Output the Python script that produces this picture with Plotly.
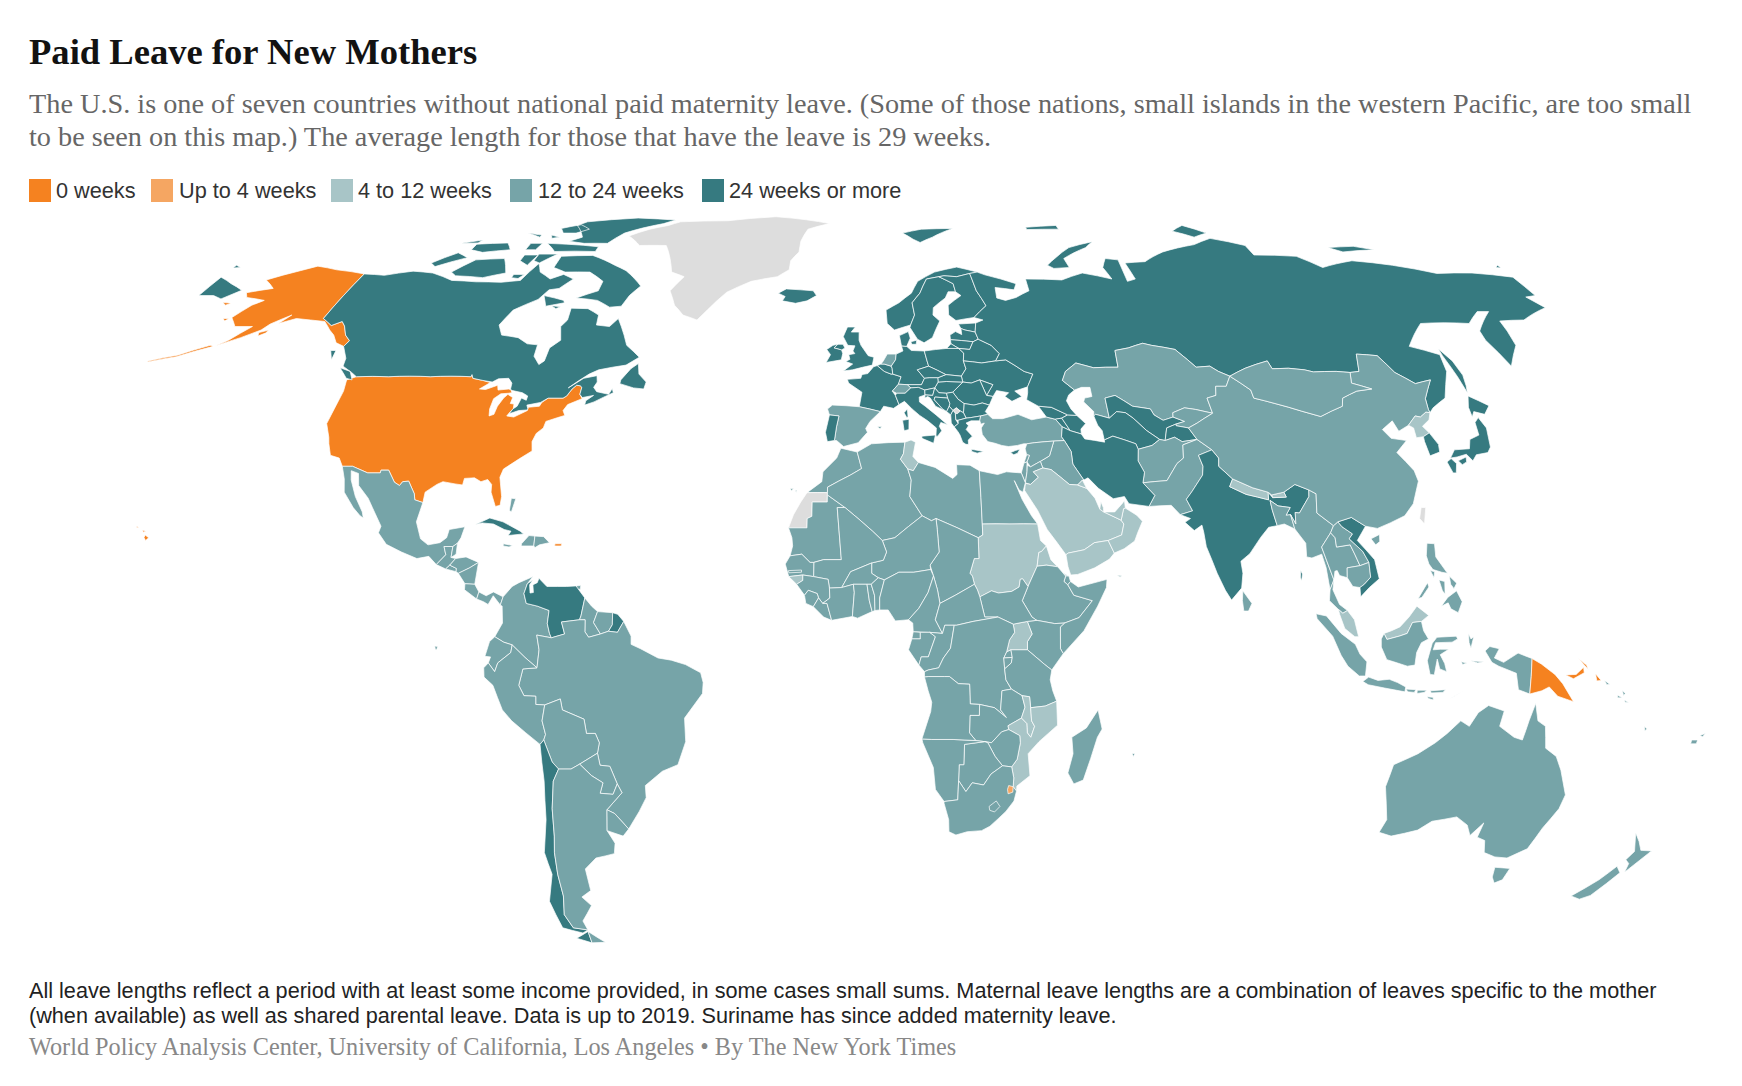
import plotly.graph_objects as go

# leave length classes, legend order
categories = ["0 weeks", "Up to 4 weeks", "4 to 12 weeks", "12 to 24 weeks", "24 weeks or more"]
category_colors = ["#f58220", "#f5a662", "#a8c5c7", "#76a4a8", "#367a80"]
no_data_color = "#dddddd"

title = "Paid Leave for New Mothers"
subtitle = ["The U.S. is one of seven countries without national paid maternity leave. (Some of those nations, small islands in the western Pacific, are too small",
            "to be seen on this map.) The average length for those that have the leave is 29 weeks."]
note = ["All leave lengths reflect a period with at least some income provided, in some cases small sums. Maternal leave lengths are a combination of leaves specific to the mother",
        "(when available) as well as shared parental leave. Data is up to 2019. Suriname has since added maternity leave."]
source = "World Policy Analysis Center, University of California, Los Angeles • By The New York Times"

weeks_0 = ["USA", "Papua New Guinea"]
weeks_up_to_4 = ["Eswatini"]
weeks_4_12 = ["Saudi Arabia", "Yemen", "Oman", "UAE", "Qatar", "Kuwait", "Sudan", "Eritrea", "Tunisia", "Uganda",
              "Malawi", "Mozambique", "Guinea-Bissau", "Nepal", "Bhutan", "North Korea", "Malaysia"]
weeks_24_plus = ["Canada", "Russia", "UK", "Ireland", "Iceland", "Norway", "Sweden", "Finland", "Denmark", "Germany",
                 "France", "Belgium", "Poland", "Czechia", "Slovakia", "Austria", "Hungary", "Italy", "Slovenia",
                 "Croatia", "Bosnia", "Serbia", "Montenegro", "Albania", "North Macedonia", "Greece", "Bulgaria",
                 "Romania", "Moldova", "Ukraine", "Belarus", "Estonia", "Latvia", "Lithuania", "Portugal", "Cyprus",
                 "Georgia", "Armenia", "Azerbaijan", "Iran", "Uzbekistan", "Turkmenistan", "Tajikistan", "India",
                 "Vietnam", "Japan", "South Korea", "Chile", "Venezuela", "French Guiana", "Cuba", "Mauritius"]
no_data = ["Greenland", "Western Sahara", "Kosovo", "Taiwan"]

# country outlines as lon,lat rings (everything not listed above is 12 to 24 weeks)
outlines = {
    "USA": ["-124.7,48.4 -122.8,49 -115,49 -105,49 -95.2,49 -95.2,49.4 -94.6,48.7 -92,48.3 -90,47.9 -92,46.7 -90.5,46.6 -88,47.4 -87.5,46.5 -85,46.7 -84.4,46.5 -84,46 -84.8,45.9 -86.5,45.8 -87.8,44.9 -87.9,43 -87.5,41.7 -86.5,42 -86.3,43.5 -85.5,45 -84.8,45.7 -83.4,45.1 -83.5,44 -82.6,43.9 -82.4,43 -83.1,42.2 -83.4,41.7 -81.7,41.5 -79,42.7 -79,43.3 -76.5,43.5 -76.2,44.2 -75,45 -71.5,45 -70.8,45.4 -70,46.7 -69.2,47.4 -68.3,47.3 -67.8,47 -67.8,45.7 -67,44.9 -70,43.8 -70.7,42.7 -70,41.8 -71.5,41.4 -74,40.7 -74.2,39.5 -75.5,38.5 -76,37 -75.5,35.3 -77.9,33.9 -81,32 -81.4,30.5 -80.2,27 -80.2,25.4 -81.2,25.2 -82.7,27.8 -82.9,29.2 -84,30.1 -85.4,29.7 -87,30.4 -89.2,30.3 -89.3,29.1 -91,29.3 -93.8,29.7 -95,29.2 -97.2,27.8 -97.2,25.9 -99.1,26.4 -99.5,27.5 -101.4,29.8 -102.7,29.7 -103.2,29 -104.5,29.6 -106.5,31.8 -108.2,31.8 -108.2,31.3 -111,31.3 -114.8,32.5 -117.1,32.5 -118.4,34 -120.6,34.5 -121.9,36.6 -122.5,37.8 -124.3,40.3 -124.1,43 -124,46.3",
            "-141,69.6 -141,60.3 -137.5,58.9 -135.5,59.7 -134,58.8 -132,57 -130,55.9 -130.5,54.8 -133,55.5 -135,57 -137,58 -140,59.7 -144,60 -148,60.3 -151.5,59.3 -150,61 -153.5,59.2 -154.5,58 -158,56.5 -162.5,54.9 -160.5,56 -157.5,58.7 -162,58.7 -165,60.5 -163,63 -161,64 -166.5,64.6 -168,65.6 -162,66.5 -166.5,68.3 -160,70.3 -156.5,71.3 -150,70.5",
            "-163,54.8 -170,52.8 -176,51.8 -176,52 -170,53.1 -164,55",
            "-154.5,57.5 -152.5,58 -152.7,57.4 -154,56.8",
            "-171.5,63.6 -169,63.4 -170,63",
            "-167,60.3 -165.5,60.3 -166,59.8",
            "-155.9,20 -155,19.5 -155.5,19 -156,19.5",
            "-156.7,20.9 -156,20.7 -156.5,20.5",
            "-158.2,21.6 -157.7,21.4 -158.1,21.3",
            "-67.2,18.4 -65.7,18.4 -65.8,18 -67.2,18"],
    "Canada": ["-141,69.6 -135,69.3 -128,70.2 -122,69.8 -115,68.2 -108,67.9 -101,67.8 -96,68.2 -94,71.9 -92,70 -88,68.5 -85,69.5 -81.5,68.5 -84,66.5 -86.5,66.2 -88,64.2 -93,62 -94.5,59 -92.5,57 -88,56.5 -85,55.3 -82.3,55.1 -82,52.9 -80,51.3 -79,52 -79,54.5 -77,56 -78.5,58.7 -77.5,60 -78,62.4 -73.5,62.3 -70,61 -69.5,59 -66,58.7 -64.5,60.3 -61.5,57 -60,55 -56,52.7 -58.7,51.2 -65,50.3 -67,49.5 -71,46.9 -68,48.7 -65,49.2 -64.5,48 -65,47 -64,46.2 -61,45.7 -60.5,46.8 -60,46 -64,44.3 -66,43.7 -66,44.5 -64.5,45.5 -67,45.1 -67.8,45.7 -67.8,47 -68.3,47.3 -69.2,47.4 -70,46.7 -70.8,45.4 -71.5,45 -75,45 -76.5,44.2 -79.5,43.7 -79,43 -79.1,42.8 -81,42.7 -83,42.1 -82.5,43 -81.7,43.5 -81.3,45 -80,44.6 -80,45.4 -81.5,46 -84,46.4 -84.6,46.6 -84.8,47.8 -86,48.7 -88.4,48.6 -89.6,48 -92,48.3 -94.6,48.7 -95.2,49.4 -95.2,49 -105,49 -115,49 -122.8,49 -124.5,49.8 -127.5,51 -128,52.5 -130.5,54.8 -130,55.9 -132,57 -134,58.8 -135.5,59.7 -137.5,58.9 -141,60.3",
               "-80,73.7 -72,71.5 -68,70.3 -62,67 -64,65 -65,62.8 -68,62.6 -72,64 -78,64.5 -73,66 -73,68 -78,70 -85,70 -89,71 -89,73.5",
               "-117,70 -113,72.7 -105,73 -101.5,69.8 -107,68.8 -115,69.2",
               "-125,72 -123,71.2 -116,73.2 -120,74.3",
               "-90,77 -85,76.5 -78,76.5 -75,79 -65,81.5 -62,82.5 -75,83.1 -90,82 -92,81 -87,78",
               "-96,76.5 -90,76.3 -80,75.7 -80,74.6 -92,74.6",
               "-117,76.3 -108,76.6 -105.5,75 -113,74.4 -117,75",
               "-96,80.2 -91,81.2 -87,80 -90,79 -94,79",
               "-100,73.8 -96,73.8 -97,71.5 -100,72.5",
               "-96,74 -90.5,74 -94,72 -96,72.5",
               "-101,76.5 -97.5,76.5 -98,75 -101,75",
               "-122,76.5 -116.5,77.3 -117,76.6",
               "-105,79 -100,78.5 -100,78",
               "-97,78.5 -94,78 -96,77.7",
               "-99,69.5 -96,69.5 -97,68.6 -99,68.8",
               "-83.5,62.9 -81,62.7 -82,62.3",
               "-59,47.7 -55.5,46.9 -53,46.7 -52.8,48 -55,49.5 -55.8,51.5 -57.3,50.5 -59,48.4",
               "-128,50.7 -125,50 -123.4,48.4 -125,48.7",
               "-87,65 -81,64 -80.5,63.5 -85,62.8",
               "-133,54 -131.7,54 -131.3,52.2"],
    "Greenland": ["-73,78.3 -68,76 -60,76 -55,70 -51,69 -53.5,66 -51,63 -48,61 -44,60 -42,62 -38,65.7 -32,68 -25,69 -22,70.5 -22,72.5 -20,74.5 -20,77 -18.5,80 -12,81.5 -30,83.5 -45,82.3 -60,82 -63,81 -68,80"],
    "Iceland": ["-24,65.5 -22,66.4 -18,66.2 -14.6,66 -13.6,65 -16,63.9 -19,63.4 -22.6,63.9 -22,64.8"],
    "Mexico": ["-117.1,32.5 -114.8,32.5 -111,31.3 -108.2,31.3 -108.2,31.8 -106.5,31.8 -104.5,29.6 -103.2,29 -102.7,29.7 -101.4,29.8 -99.5,27.5 -99.1,26.4 -97.2,25.9 -97.8,22.4 -96.3,19.3 -94.5,18.2 -92,18.6 -90.7,19.5 -90.4,21 -87.1,21.5 -87.6,19.5 -88.2,18.5 -89.1,17.9 -91,17.9 -90.4,16.4 -92.2,14.6 -94,16.1 -96.5,15.7 -100,16.9 -103.5,18.3 -105.6,20.4 -105.3,21.6 -108,25 -109.4,26.7 -112.2,29 -113,31.2 -114.8,31.7 -114.2,30 -112.3,27 -110,24.2 -109.5,23.1 -110.3,23.5 -112.2,25 -115,27.8 -115.8,30.2"],
    "Guatemala": ["-92.2,14.6 -90.4,16.4 -91,17.9 -89.1,17.9 -89.2,15.9 -88.2,15.7 -89.3,14.5 -90.1,13.8"],
    "Belize": ["-89.1,17.9 -88.2,18.5 -88.2,16.5 -89.2,15.9"],
    "El Salvador": ["-90.1,13.8 -89.3,14.5 -87.8,13.9 -87.8,13.3"],
    "Honduras": ["-89.3,14.5 -88.2,15.7 -86,16 -83.2,15 -85,14 -87.3,13 -87.8,13.3 -87.8,13.9"],
    "Nicaragua": ["-87.3,13 -85,14 -83.2,15 -83.6,11 -85.7,11.1"],
    "Costa Rica": ["-85.7,11.1 -83.6,11 -82.6,9.6 -83,8.3 -85.7,10"],
    "Panama": ["-83,8.3 -82.6,9.6 -81,8.9 -79.5,9.6 -77.4,8.7 -77.9,7.2 -79.5,8.9 -80.5,7.3 -81.5,7.8"],
    "Cuba": ["-84.9,21.9 -82,23.1 -79,22.4 -75,20.7 -74.2,20.2 -77.5,19.9 -77,20.7 -78.5,21 -81,22 -83.5,22.2"],
    "Jamaica": ["-78.3,18.4 -76.3,18.1 -77,17.8 -78.3,18"],
    "Haiti": ["-74.4,18.4 -73,19.9 -71.7,19.8 -71.7,18 -74.4,18"],
    "Dominican Republic": ["-71.7,19.8 -69.8,19.7 -68.4,18.6 -70.5,18.2 -71.4,17.7 -71.7,18"],
    "Bahamas": ["-78,26.7 -77,26.6 -77.5,24.2 -78,24.5"],
    "Trinidad": ["-61.9,10.7 -61,10.8 -61,10.1 -61.9,10.1"],
    "Colombia": ["-77.4,8.7 -75.6,10.6 -74.2,11.3 -71.3,12.4 -72.4,11.1 -73,9.3 -72.4,7.5 -70,7 -67.5,6.2 -67.8,3.8 -67.3,2 -66.9,1.2 -70,1.7 -69.5,-1 -70,-4.3 -72.5,-2.4 -75.2,-0.1 -77,0.4 -78.9,1.4 -77.3,3.9 -77.5,7 -77.9,7.2"],
    "Venezuela": ["-71.3,11.8 -72.4,11.1 -73,9.3 -72.4,7.5 -70,7 -67.5,6.2 -67.8,3.8 -67.3,2 -66.9,1.2 -64.1,1.9 -64.8,4.1 -61,4.5 -60.7,5.2 -60,8.5 -62,10.7 -64,10.6 -66,10.6 -68.2,10.6 -70,12.1 -70.3,11.3 -71.2,10.9 -71,9.5 -71.7,9.4 -71.9,10.9"],
    "Guyana": ["-60,8.5 -60.7,5.2 -61,4.5 -59.8,4.5 -59.8,2.3 -59,1.3 -56.5,1.9 -58,4 -57.2,6 -58.5,7"],
    "Suriname": ["-57.2,6 -58,4 -56.5,1.9 -54.8,2.4 -54,3.6 -54,5.8"],
    "French Guiana": ["-54,5.8 -54,3.6 -54.8,2.4 -52.9,2.2 -51.6,4.2 -52.9,5.5"],
    "Brazil": ["-51.6,4.2 -52.9,2.2 -54.8,2.4 -56.5,1.9 -59,1.3 -59.8,2.3 -59.8,4.5 -61,4.5 -64.8,4.1 -64.1,1.9 -66.9,1.2 -70,1.7 -69.5,-1 -70,-4.3 -73,-4.5 -74,-7.5 -73,-9.4 -70.5,-9.5 -70.6,-11 -68.7,-11.1 -65.3,-10 -65,-12 -60.5,-13.7 -60.2,-16.3 -58.3,-16.3 -57.6,-18 -58.2,-19.9 -57.9,-22.1 -55.8,-22.3 -54.6,-25.5 -53.8,-27.1 -57.6,-30.2 -56,-30.9 -53.4,-33.7 -50.5,-30.5 -48.6,-28 -48.5,-25.8 -44.5,-23.2 -41,-22 -39,-17.8 -39,-13.5 -35,-9 -34.8,-7 -35.3,-5.2 -38.5,-3.7 -41.5,-2.9 -44.3,-2.5 -48,-0.8 -50,0 -50,1.5"],
    "Ecuador": ["-78.9,1.4 -77,0.4 -75.2,-0.1 -75.5,-1.5 -78.3,-3.4 -79,-5 -80.3,-3.4 -79.8,-2.3 -81,-2.2 -80,0.5"],
    "Galapagos": ["-91.6,-0.3 -91,-0.4 -91.2,-1 -91.5,-0.9"],
    "Peru": ["-80.3,-3.4 -79,-5 -78.3,-3.4 -75.5,-1.5 -75.2,-0.1 -72.5,-2.4 -70,-4.3 -73,-4.5 -74,-7.5 -73,-9.4 -70.5,-9.5 -70.6,-11 -68.7,-11.1 -69.5,-14 -69,-16.5 -69.5,-17.5 -70.4,-18.3 -76,-14 -77.8,-12 -79.5,-7.5 -81.3,-6 -81.3,-4.3"],
    "Bolivia": ["-68.7,-11.1 -65.3,-10 -65,-12 -60.5,-13.7 -60.2,-16.3 -58.3,-16.3 -57.6,-18 -58.2,-19.9 -62.3,-21.9 -64.3,-22.8 -67,-22.8 -68.2,-21.5 -69.5,-17.5 -69,-16.5 -69.5,-14"],
    "Paraguay": ["-58.2,-19.9 -57.9,-22.1 -55.8,-22.3 -54.6,-25.5 -55.8,-27.4 -58.6,-27.2 -57.7,-25.3 -60,-24 -62.3,-21.9"],
    "Chile": ["-70.4,-18.3 -69.5,-17.5 -68.2,-21.5 -67,-22.8 -68.5,-25 -69.7,-30 -70.4,-35 -71.2,-38 -71.7,-42 -71.8,-46 -73,-49.5 -71.9,-52 -68.5,-52.4 -70,-53 -74.5,-52 -75.5,-47 -73,-42 -73.5,-38 -71.5,-32 -70.5,-25",
              "-68.6,-52.7 -68.6,-54.9 -72,-54"],
    "Argentina": ["-64.3,-22.8 -62.3,-21.9 -60,-24 -57.7,-25.3 -58.6,-27.2 -55.8,-27.4 -54.6,-25.5 -53.8,-27.1 -57.6,-30.2 -58.3,-34 -57,-36.3 -57.6,-38.2 -62,-39 -65,-41 -65,-45 -67.5,-46.2 -65.8,-47.8 -69,-50.7 -68.5,-52.4 -71.9,-52 -73,-49.5 -71.8,-46 -71.7,-42 -71.2,-38 -70.4,-35 -69.7,-30 -68.5,-25 -67,-22.8",
                  "-68.6,-52.7 -65.2,-54.8 -68.6,-54.9"],
    "Uruguay": ["-57.6,-30.2 -56,-30.9 -53.4,-33.7 -54.9,-35 -58.3,-34"],
    "UK": ["-5.7,50.1 -3.5,50.3 1.3,51.2 1.7,52.7 0.3,53 -1.5,55 -2,56 -2,57.6 -4,57.6 -3,58.6 -5,58.6 -6,56.7 -4.8,55 -3,54.9 -3.5,53.9 -3,53.4 -4.5,53.2 -4.2,52.3 -5.2,51.9 -3.5,51.4",
           "-8.2,54.5 -7.3,55.2 -6,55.2 -5.5,54.5 -6.3,54.1"],
    "Ireland": ["-10,51.7 -6.3,52.2 -6,53.4 -6.3,54.1 -8.2,54.5 -7.3,55.2 -8.5,55 -10,54.2 -9,53.2"],
    "France": ["-1.8,43.4 3.1,42.5 3.9,43.5 6.2,43.1 7.5,43.8 6.7,45.5 6,46.3 7.5,47.6 8.2,49 6.2,49.5 5.8,49.5 4.2,50 2.5,51.1 1.6,50.9 0.2,49.6 -1.2,49.4 -1.5,48.7 -4.7,48.5 -4.4,47.8 -1.2,46.1",
               "8.6,42.3 9.4,43 9.5,41.5 9.2,41.4"],
    "Spain": ["-9.2,43 -8.1,43.7 -1.8,43.4 3.1,42.5 0.7,40.7 -0.3,39.4 0.1,38.7 -2,36.8 -5.3,36.1 -6.9,37.2 -7.4,37.2 -7,39.7 -6.5,41.7 -8.7,41.9",
              "2.4,39.7 3.4,39.8 3,39.3",
              "-16.9,28.4 -16.2,28.5 -16.6,28", "-15.8,28.2 -15.4,28.1 -15.6,27.8"],
    "Portugal": ["-8.7,41.9 -6.5,41.7 -7,39.7 -7.4,37.2 -9,37 -9.5,38.7"],
    "Belgium": ["2.5,51.1 4.2,50 5.8,49.5 6.2,49.5 6.1,50.6 5.9,51 4.2,51.4 3.4,51.4"],
    "Netherlands": ["3.4,51.4 4.2,51.4 5.9,51 7,52.2 7.2,53.3 5,53.3 4,52"],
    "Germany": ["6.2,49.5 8.2,49 7.5,47.6 9.6,47.5 13,47.5 13.8,48.7 12.2,50.3 15,51 14.7,52 14.2,53.9 11,54 9.9,54.8 8.6,54.9 8.9,53.9 7.2,53.3 7,52.2 5.9,51 6.1,50.6"],
    "Denmark": ["8.6,54.9 9.9,54.8 10.9,56.4 10.5,57.7 8.2,56.9", "11,55.7 12.5,56 12.3,55.2 11.2,55.2"],
    "Norway": ["5.2,59.3 7,58 9,58.5 11.2,59 12.4,61 12,63.5 14.3,65.5 16.5,68.5 20,69 21.5,69.2 25,69 28.8,69.7 31,70 25.5,71.1 19,70 14,68 12,65.5 8.5,63.5 5,62",
               "11,79 17,80 27,80.2 20,78 16,76.7 14,77.5"],
    "Sweden": ["11.2,59 11,58.5 12.7,56.2 14.3,55.5 16.5,56.5 18.8,59.8 17.2,61 17.5,62.5 21,64.5 22,65.8 24,65.8 23.7,67.5 20,69 16.5,68.5 14.3,65.5 12,63.5 12.4,61"],
    "Finland": ["24,65.8 25.3,65 21.5,63 21.3,61 23,59.9 27.8,60.5 31.5,62.9 29.7,66 29,69 28.8,69.7 25,69 21.5,69.2 20,69 23.7,67.5"],
    "Estonia": ["23.5,59.2 28,59.4 27.5,57.6 25,58 24,58.3"],
    "Latvia": ["21,57 21,56.1 26.6,55.7 28,56.2 27.5,57.6 25,58 24,58.3 24,57.1 22.5,57.7"],
    "Lithuania": ["21,56.1 21,55.3 22.8,54.4 25.5,54.2 26.6,55.7"],
    "Poland": ["14.2,53.9 19.8,54.4 22.8,54.4 23.9,53.5 23.6,52 24,50.5 22.7,49.1 19,49.4 15,51 14.7,52"],
    "Belarus": ["23.9,53.5 22.8,54.4 25.5,54.2 26.6,55.7 28,56.2 31,55 32.7,53.4 31.5,52 28,51.6 23.6,52"],
    "Ukraine": ["23.6,52 28,51.6 31.5,52 34,52.2 38,50 40,49.5 38.2,47.1 35,46.3 36.5,45.3 34,44.4 32.5,45.3 33.5,46 30.7,46.4 29.7,45.3 28.2,45.5 30,47.5 27,48.4 24.9,47.8 22.9,48 22.7,49.1 24,50.5"],
    "Moldova": ["27,48.4 30,47.5 28.2,45.5"],
    "Romania": ["22.9,48 24.9,47.8 27,48.4 28.2,45.5 29.7,45.3 28.6,43.7 27,44.1 25,43.7 22.7,44 21.4,44.8 20.3,46.1"],
    "Bulgaria": ["22.7,44 25,43.7 27,44.1 28.6,43.7 27.5,42.5 28,42 26.3,41.7 24,41.4 22.9,41.3 22.4,42.3"],
    "Hungary": ["16.1,46.9 17,48 19,48.1 22.9,48 20.3,46.1 18.8,45.9 17,46"],
    "Slovakia": ["17,48 17,48.8 19,49.4 22.7,49.1 22.9,48 19,48.1"],
    "Czechia": ["12.2,50.3 15,51 19,49.4 17,48.8 15,48.8 13.8,48.7"],
    "Austria": ["9.6,47.5 13,47.5 13.8,48.7 15,48.8 17,48.8 17,48 16.1,46.9 13.7,46.5 12.2,47 10.4,46.9"],
    "Switzerland": ["6,46.3 7.5,47.6 9.6,47.5 10.4,46.9 9,45.9 7,45.9"],
    "Italy": ["6.7,45.5 7,45.9 9,45.9 10.4,46.9 12.2,47 13.7,46.5 13.7,45.6 12.3,45.2 12.3,44.3 13.6,43.5 16,41.9 18.5,40.1 17,40.5 16.6,39.8 17.1,39 16.1,38 15.7,38 15.9,39.5 14,40.8 12.2,41.8 10.5,43 8.8,44.4 7.5,43.8",
              "12.5,38 15.6,38.2 15.1,36.7 12.5,37.6", "8.2,40.9 9.7,41.1 9.6,39.2 8.5,39"],
    "Slovenia": ["13.7,45.6 13.7,46.5 16.1,46.9 15.5,45.5"],
    "Croatia": ["13.6,45 13.7,45.6 15.5,45.5 16.1,46.9 17,46 18.8,45.9 19,45 16,45.2 15.8,44.7 17.6,43 18.5,42.5 16,43.5 14.9,45 14.3,45.3"],
    "Bosnia": ["16,45.2 19,45 19.4,44 19.2,43.5 18.5,42.5 17.6,43 15.8,44.7"],
    "Serbia": ["18.8,45.9 20.3,46.1 21.4,44.8 22.7,44 22.4,42.3 21.7,42.6 20.8,43.2 20,42.7 19.2,43.5 19.4,44 19,45"],
    "Kosovo": ["20,42.7 20.8,43.2 21.7,42.6 20.9,42.1 20.5,42.2"],
    "Montenegro": ["18.5,42.5 19.2,43.5 20,42.7 19.4,41.9"],
    "Albania": ["19.4,41.9 20,42.7 20.5,42.2 20.5,41 21,40.3 20,39.7 19.4,40.4"],
    "North Macedonia": ["20.5,42.2 20.9,42.1 21.7,42.6 22.4,42.3 22.9,41.3 21,40.9 20.5,41"],
    "Greece": ["20,39.7 21,40.3 21,40.9 22.9,41.3 24,41.4 26.3,41.7 26,40.8 24,40.8 22.8,40.4 23.3,39.9 22.7,39.2 24,38 23,37.3 23,36.5 22.4,36.5 21.7,36.9 21.2,38.2 20.8,38.8",
               "23.6,35.6 26.3,35.2 24.8,34.9 23.6,35.2"],
    "Cyprus": ["32.3,35 33.5,35.4 34.5,35.6 33.9,34.9 33,34.6"],
    "Turkey": ["26.3,41.7 28,42 29,41.2 31.3,41.2 35,42 38,41 41.5,41.5 43.5,41.1 44.8,39.7 44.3,37.9 44.8,37.2 42.4,37.1 38,36.8 36.2,36.6 35.5,36.6 34,36.3 32,36.1 30.5,36.3 29,36.7 27.4,37 26.3,38.3 26.2,39.5 27,40.4 26.2,40.2 26,40.8"],
    "Georgia": ["40,43.5 43,43.3 46.5,41.9 45,41.3 43.5,41.1 41.5,41.5"],
    "Armenia": ["43.5,41.1 45,41.3 46.5,39 44.8,39.7"],
    "Azerbaijan": ["45,41.3 46.5,41.9 48.6,41.8 50.3,40.3 49,39.3 48.9,38.4 46.5,39"],
    "Russia": ["38.2,47.1 40,49.5 38,50 34,52.2 31.5,52 32.7,53.4 31,55 28,56.2 27.5,57.6 28,59.4 30,60 27.8,60.5 31.5,62.9 29.7,66 29,69 28.8,69.7 31,70 33,69.4 41,67.5 40,66.2 35,66.7 34.8,64.5 37,64 40,64.6 44,66 44,68.5 54,68.3 60.5,69.8 68,68.5 67,71 69,73 72.5,72.7 72,68 74.5,68.5 74,72 80,72.3 87,74.5 98,76.2 104.5,77.7 113,76 113,73.8 125,73.5 129.5,71 139.8,72.5 150,71.5 160,69.7 170,69.8 180,68.9 180,65 177,64.7 179,62.5 170,60 163.5,59.8 163,57.8 162,55 156.8,51 155.5,56 156,57.8 163,61.7 160,61.7 155,59.3 142.5,59.3 135.2,54.8 141.3,53.2 140.2,50 136,45 132,43.2 130.7,42.3 130.7,42.9 131.3,44.9 135,48.4 130.9,47.7 127.5,49.8 125.7,53 120.8,53.3 119,50 116.7,49.8 113.5,50 107.9,49.9 106,50.3 102.3,50.6 98.3,50.5 98,52 91.8,50.6 87.3,49.1 85,50 83.4,51 80,50.8 77,53.7 76.5,54.2 71,55 69,55.4 65,54.5 61.5,54 61,50.8 55,50.7 51,51.6 48,50 46.8,48.3 49.2,46.5 47.6,45.6 46.8,44.5 47.5,43 48.6,41.8 46.5,41.9 43,43.3 40,43.5 37.5,44.7 38,46",
               "-180,68.9 -175,67.5 -170,66.1 -173,64.3 -176,65 -180,65",
               "-180,71.5 -178,71 -180,70.9",
               "21,55.3 22.8,54.4 19.8,54.4",
               "142,54.3 143.3,52 143.5,49.3 142.7,47.3 142,46 142,49 141.8,53",
               "51.5,71.5 55,73.3 60,75.5 68,76.9 65,75.5 57,73 57.5,71 53,70.8",
               "95,79.5 100,81 105,79 100,78",
               "137,75.5 145,75.8 150,75 140,74.5",
               "178.7,71 180,71.5 180,70.9",
               "50,80.5 60,81 60,80 50,79.9"],
    "Kazakhstan": ["46.8,48.3 48,50 51,51.6 55,50.7 61,50.8 61.5,54 65,54.5 69,55.4 71,55 76.5,54.2 77,53.7 80,50.8 83.4,51 85,50 87.3,49.1 85.5,47.2 83,47.2 82.3,45.5 80,45 80.2,42.2 76.5,42.9 74,43.2 71,42.3 70.8,41.5 68.3,40.9 66.5,41.9 66,43 62,43.5 58.5,45.5 56,45 56,41.3 53,42 52.5,41.7 52.7,42.5 50.8,44.3 51.2,45 53,45.3 53,47 51,47 49.2,46.5"],
    "Uzbekistan": ["56,45 58.5,45.5 62,43.5 66,43 66.5,41.9 68.3,40.9 70.8,41.5 73.2,40.7 71,40.2 68.7,39.5 67.7,37.2 66.5,37.4 64,39 61.5,41.3 60,42.3 58,42.5 56,41.3"],
    "Turkmenistan": ["52.5,41.7 53,42 56,41.3 58,42.5 60,42.3 61.5,41.3 64,39 66.5,37.4 64.5,36.3 61.2,35.6 60.9,36.6 56,38 53.9,37.3 53.8,39 53,40"],
    "Kyrgyzstan": ["71,42.3 74,43.2 76.5,42.9 80.2,42.2 76,40.4 73.7,39.5 71,39.9 71,40.2 73.2,40.7 70.8,41.5"],
    "Tajikistan": ["68.7,39.5 71,40.2 71,39.9 73.7,39.5 75,37.4 71.5,37 70,37.8 67.7,37.2"],
    "Afghanistan": ["61.2,35.6 64.5,36.3 66.5,37.4 67.7,37.2 70,37.8 71.5,37 75,37.4 71.5,36.4 71,34 69.3,33 66.4,29.9 61,29.5 61.7,31.4 60.7,33.5"],
    "Pakistan": ["61,29.5 66.4,29.9 69.3,33 71,34 71.5,36.4 75,37.4 77.8,35.5 74.5,34.5 75,32.5 74.5,30.9 71.5,27.9 70,26.5 71,24.4 68.2,23.7 66.5,25.4 61.6,25.2 63.2,27.2"],
    "Iran": ["44.8,39.7 46.5,39 48.9,38.4 49.5,37.5 53.9,36.9 53.9,37.3 56,38 60.9,36.6 61.2,35.6 60.7,33.5 61.7,31.4 61,29.5 63.2,27.2 61.6,25.2 57.3,25.7 56.5,27 54,26.6 51,28.5 49,30.4 48,30 46,32.9 46,35.2 44.8,37.2 44.3,37.9"],
    "Iraq": ["38.8,33.4 41,34.4 42.4,37.1 44.8,37.2 46,35.2 46,32.9 48,30 47.7,30 46.5,29.1 44.7,29.2 41,31.9 39.2,32.2"],
    "Syria": ["35.9,34.6 35.7,35.7 36.2,36.6 38,36.8 42.4,37.1 41,34.4 38.8,33.4 36.5,32.4 35.8,33.3 36.5,34.5"],
    "Lebanon": ["35.1,33.1 35.9,34.6 36.5,34.5 35.8,33.3"],
    "Israel": ["34.3,31.3 35.1,33.1 35.8,33.3 35.6,31.5 35,29.5"],
    "Jordan": ["35,29.5 35.6,31.5 35.8,32.7 36.5,32.4 38.8,33.4 39.2,32.2 37,31.5 38,30.5 36.1,29.2"],
    "Saudi Arabia": ["34.7,28.1 35,29.4 36.1,29.2 38,30.5 37,31.5 39.2,32.2 41,31.9 44.7,29.2 46.5,29.1 48.4,28.5 50,26.7 50.8,24.7 51.6,24.2 55.2,22.7 55.7,22 55,20 52,19 49,18.6 46.7,17.3 43.2,16.7 42.7,16.4 39,21 37.2,24.5"],
    "Kuwait": ["46.5,29.1 47.7,30 48.4,28.5"],
    "Yemen": ["42.7,16.4 43.2,16.7 46.7,17.3 49,18.6 52,19 53.1,16.7 52,15.6 48.7,14 45,12.8 43.5,12.7 43,14.2",
              "53.4,12.7 54.5,12.6 54,12.3"],
    "Oman": ["52,19 55,20 55.7,22 55.2,22.7 56,24.8 56.4,24.9 58.7,23.6 59.8,22.5 58.5,20.4 57.7,18.9 55.3,17.5 53.1,16.7"],
    "UAE": ["51.6,24.2 54,24.2 55.9,25.8 56.4,26.3 56.4,24.9 56,24.8 55.2,22.7"],
    "Qatar": ["50.8,24.7 51.2,26.1 51.6,25 51.6,24.2"],
    "India": ["77.8,35.5 78.9,34 78.5,32.5 81,30.2 80,28.8 83.3,27.4 88,26.4 88.2,27.8 89,26.8 92,26.9 91.7,27.8 94.5,29.2 97.3,28.2 97,27 94.2,24 93.3,24.1 93,22 92.2,23.7 91.2,23.6 92.4,25 89.8,25.3 88.3,26.3 88.4,24.5 88.9,21.7 87,21.4 85,19.6 82.2,16.6 80.1,15.2 80.3,13 79.8,10.3 77.5,8.1 76.3,9.9 74.8,13 73,17.9 72.8,20.5 72.6,21.8 70.8,20.8 69,22.3 70.3,23 68.2,23.7 71,24.4 70,26.5 71.5,27.9 74.5,30.9 75,32.5 74.5,34.5",
              "92.7,13.5 93,12.9 92.7,11.6 92.5,12.3"],
    "Nepal": ["80,28.8 81,30.2 85,28.6 88.2,27.8 88,26.4 83.3,27.4"],
    "Bhutan": ["89,26.8 88.9,27.3 91.7,27.8 92,26.9"],
    "Bangladesh": ["88.4,24.5 88.3,26.3 89.8,25.3 92.4,25 91.2,23.6 92.2,23.7 92.6,21.1 90.5,22 88.9,21.7"],
    "Myanmar": ["97.3,28.2 98.7,27.5 98,24 101.1,21.7 100.2,20.4 97.8,17.8 98.5,15.3 99.6,11.8 98.6,10 98.2,14 97.6,16.5 95.4,15.8 94.3,16 94.5,18.5 92.6,21.1 92.2,23.7 93,22 93.3,24.1 94.2,24 97,27"],
    "Thailand": ["97.8,17.8 100.2,20.4 101,19.5 101,17.8 104,18.2 104.7,16.5 105.5,14.4 102.7,14 102.5,12.2 100.9,12.6 100.5,13.5 100,13.4 99.2,10 100.4,7.3 102,6.2 101,5.7 100.1,6.4 98.3,8 98.6,10 99.6,11.8 98.5,15.3"],
    "Laos": ["101.1,21.7 102.2,22.4 102.9,21.5 104.9,20.2 104,19.3 106.5,17 107.5,15 105.5,14.4 104.7,16.5 104,18.2 101,17.8 101,19.5 100.2,20.4"],
    "Cambodia": ["102.5,12.2 102.7,14 105.5,14.4 107.5,15 107.5,12.3 106,11 105,10.4 103.5,10.6"],
    "Vietnam": ["102.2,22.4 105.3,23.2 108,21.6 105.7,19 108.8,15.5 109.3,12 107,10.4 105,8.7 105,10.4 106,11 107.5,12.3 107.5,15 106.5,17 104,19.3 104.9,20.2 102.9,21.5"],
    "Malaysia": ["100.1,6.4 101,5.7 102,6.2 103.4,4.5 104.2,1.4 103.4,1.4 101.3,2.9 100.3,5.5",
                 "109.6,2 111.2,2.5 113,3.2 115,5 116.8,7 119.2,5.3 117.6,4.2 115.7,4 114.5,2 112.8,1.5 110.2,0.9"],
    "Indonesia": ["109.6,2 110.2,0.9 112.8,1.5 114.5,2 115.7,4 117.6,4.2 118,2.5 119,1 117.5,0.3 116.5,-1.5 116.2,-3.8 114.6,-4 111.7,-3.2 110.2,-2.8 109,-0.5 109,1",
                  "95.3,5.6 97.5,5.2 100.5,2 103.5,0 104.5,-1.8 106,-3.2 105.8,-5.8 104.5,-5.8 102,-4 100.5,-2 98.7,1.5 95.5,4.7",
                  "105.3,-6.8 106.5,-6 108.5,-6.6 110.9,-6.4 112.7,-7 114.5,-7.8 114.4,-8.7 110,-8 106.5,-7.4",
                  "119.5,-5.5 118.8,-3 119.8,0.2 120.8,1.3 124.9,1.5 125.2,1 124,0.4 120.5,0.3 120,-1 121.5,-0.9 123.3,-0.9 121.5,-1.9 122.5,-3.5 123,-5 121.5,-4.5 120.9,-2.7 120.4,-5.6",
                  "141,-2.6 138,-1.6 135,-3.3 133,-2.5 134,-0.8 132,-0.4 131,-1.2 132.5,-3.3 134,-4 137.8,-5.3 138.5,-8.3 141,-9.1",
                  "124,-10 127,-8.4 125,-9.5",
                  "119.8,-8.5 123,-8.3 122.5,-8.8 120,-8.9",
                  "119.2,-9.6 120.5,-9.7 120.6,-10.2 119.5,-9.9",
                  "114.6,-8.2 116.7,-8.3 116.4,-8.8 115,-8.7",
                  "117,-8.4 119,-8.4 118.5,-8.8 117,-9",
                  "128,-3 130.8,-3.2 129.5,-3.4",
                  "126,-3.2 127.2,-3.4 126.3,-3.7",
                  "127.5,2 128,1 128.6,1.4 128,-0.7 127.6,0.3"],
    "Philippines": ["120.6,18.5 122.2,18.4 122,16 124,13 122.8,13.2 121,13.7 120.3,14.7 120,16.2",
                    "122,7 123.5,8.6 125.5,9.8 126.5,7.8 125.5,5.8 124,6.5 123.5,7.6",
                    "117.2,8.4 119.5,11.3 119.7,10.5 118,8.6",
                    "124.3,12.5 125.7,11.2 125,10.2 124.4,11",
                    "122,11.8 123.2,11.5 123,9.2 122.5,9.8",
                    "120.4,13.5 121.3,13.3 121,12.2"],
    "Papua New Guinea": ["141,-2.6 141,-9.1 143.5,-8.5 145,-7.8 147,-9.5 150.5,-10.5 147.8,-7.2 146,-5.5 145.5,-5.2 143,-3.6",
                         "148.3,-5.6 150.5,-5.5 152,-4.2 152.2,-5.2 150,-6.3",
                         "150.8,-2.6 152.6,-3.8 153,-4.6 151.5,-3.2",
                         "154.6,-5.4 155.9,-6.6 155,-6.7"],
    "Solomon Islands": ["159.7,-9.3 160.8,-9.8 159.8,-9.8", "160.6,-8.4 161.3,-9 161,-9.4",
                        "156.6,-6.6 157.8,-7.3 157.2,-7.4", "161.3,-10.2 162.3,-10.7 161.5,-10.6"],
    "Vanuatu": ["166.5,-15 167.2,-15.5 166.8,-15.8"],
    "Fiji": ["177.3,-17.5 178.6,-17.5 178.5,-18.2 177.3,-18.2", "178.8,-16.7 179.9,-16.3 179.5,-16.9"],
    "China": ["73.7,39.5 76,40.4 80.2,42.2 80,45 82.3,45.5 83,47.2 85.5,47.2 87.3,49.1 91,46.5 91,45 95.5,44 101,42.6 105,41.6 111,43.5 111.9,45 116,46.3 119.8,46.7 115.7,47.8 116.7,49.8 119,50 120.8,53.3 125.7,53 127.5,49.8 130.9,47.7 135,48.4 131.3,44.9 130.7,42.9 130.7,42.3 129.8,42.4 128,41.5 126.9,41.7 124.4,40 121.6,38.9 121.1,40.8 118,39.2 119.2,37.6 122.5,37.2 119.3,35 121.8,31.7 122,29.8 119.5,25.7 117,23.5 113.5,22.2 110.5,21.2 108,21.6 105.3,23.2 102.2,22.4 101.1,21.7 98,24 98.7,27.5 97.3,28.2 94.5,29.2 91.7,27.8 88.9,27.3 88.2,27.8 85,28.6 81,30.2 78.5,32.5 78.9,34 77.8,35.5 75,37.4",
              "108.7,19.3 110.7,20.1 110.5,18.8 109.5,18.2"],
    "Mongolia": ["87.3,49.1 91.8,50.6 98,52 98.3,50.5 102.3,50.6 106,50.3 107.9,49.9 113.5,50 116.7,49.8 115.7,47.8 119.8,46.7 116,46.3 111.9,45 111,43.5 105,41.6 101,42.6 95.5,44 91,45 91,46.5"],
    "North Korea": ["124.4,40 126.9,41.7 128,41.5 129.8,42.4 130.7,42.3 129.7,41 127.5,39.8 128.4,38.6 126.7,37.9 125,37.7 125.3,39.5"],
    "South Korea": ["126.7,37.9 128.4,38.6 129.4,36.5 129,35.1 126.5,34.4 126.5,37"],
    "Japan": ["130.9,34 132.5,35.5 136,35.7 137,37.4 139.5,38.2 140,40.5 141.3,41.4 142,39.5 140.9,36 139.8,35 137,34.6 135.7,33.5 134.8,34.7 132.5,34.2",
              "140,41.5 140.3,43.3 141.7,45.4 145.3,43.6 143.2,42 141,42.5",
              "129.8,33.3 131,33.9 131.8,33 131,31.3 130.3,31.3",
              "132.4,33.5 134.5,34.2 134.2,33.3 133,32.8"],
    "Taiwan": ["121,25 122,25 120.9,22 120.1,23"],
    "Sri Lanka": ["80,9.8 81.8,7.5 81,6.1 80,6.1 79.8,8"],
    "Morocco": ["-5.9,35.8 -2.2,35.1 -1.2,32.1 -3.7,30.9 -8.7,28.7 -8.7,27.7 -13.2,27.7 -10,29.7 -9.8,31.5 -6.8,34"],
    "Western Sahara": ["-13.2,27.7 -8.7,27.7 -8.7,26 -12,26 -12,23.4 -13,23 -13,21.3 -17,21.3 -16,23.7 -14.5,26"],
    "Mauritania": ["-17,21.3 -13,21.3 -13,23 -12,23.4 -12,26 -8.7,26 -8.7,27.3 -4.8,25 -6.5,25 -5.5,15.5 -9.3,15.5 -11.4,15 -12.2,15 -14,16.5 -16.5,16.2 -16,18 -16.2,19.5"],
    "Algeria": ["-2.2,35.1 1,36.6 8.6,36.9 8.2,34.8 7.5,33.8 9.1,32 9.8,30 9.4,27 12,23.5 6,19.5 3.3,19 1.2,20.7 -4.8,25 -8.7,27.3 -8.7,28.7 -3.7,30.9 -1.2,32.1"],
    "Tunisia": ["8.6,36.9 10,37.3 11,36.9 10.3,34.3 11.5,33.2 10.3,31.7 9.1,32 7.5,33.8 8.2,34.8"],
    "Libya": ["11.5,33.2 15.2,32.3 19,30.3 20,31 20,32.8 23,32.7 25,31.7 25,22 25,20 24,19.5 15,23 14,22.6 12,23.5 9.4,27 9.8,30 9.1,32 10.3,31.7"],
    "Egypt": ["25,31.7 29,31 31,31.5 34.3,31.3 35,29.5 34.3,27.8 33.5,28.2 32.6,29.9 34,26.5 35.8,23.5 37,22 31,22 25,22"],
    "Sudan": ["25,22 31,22 37,22 37.4,19 38.6,18 37.5,17 36.9,16.8 36.4,14.3 34.3,10.6 33.2,12 32.7,11.9 32.4,10.5 30.8,9.7 28,9.4 26.5,9.8 24,8.7 23.5,10 22.9,11 22.5,12.5 22,13 23,15.7 24,15.7 24,19.5 25,20"],
    "Eritrea": ["38.6,18 39.4,15.5 42,13 43.1,12.5 42.4,12.5 40.8,14.2 38.4,14.5 36.4,14.3 36.9,16.8 37.5,17"],
    "Djibouti": ["43.1,12.5 43.4,11.5 42.8,10.9 42,11.5 42.4,12.5"],
    "Ethiopia": ["36.4,14.3 38.4,14.5 40.8,14.2 42.4,12.5 42,11.5 42.8,10.9 44,9 47.9,8 45,4.9 41.9,3.9 39.8,3.8 36,4.4 35,5 33,8 34.3,10.6"],
    "Somalia": ["43.4,11.5 45,10.5 51.2,11.9 51,10.4 49,7 46,2.5 41.6,-1.7 41,-0.8 41,3.2 41.9,3.9 45,4.9 47.9,8 44,9 42.8,10.9"],
    "Kenya": ["34,4.2 36,4.4 39.8,3.8 41.9,3.9 41,3.2 41,-0.8 41.6,-1.7 39.2,-4.7 37.7,-3.7 34,-1 34,0.5 35,1.9"],
    "Uganda": ["31,3.7 34,4.2 35,1.9 34,0.5 34,-1 30.5,-1 29.6,-1.4 30.2,0.8 31.3,2.2"],
    "South Sudan": ["24,8.7 26.5,9.8 28,9.4 30.8,9.7 32.4,10.5 32.7,11.9 33.2,12 34.3,10.6 33,8 35,5 36,4.4 34,4.2 31,3.7 27.8,5 25,5"],
    "Chad": ["15,23 24,19.5 24,15.7 23,15.7 22,13 22.5,12.5 22.9,11 18.8,9 15.5,7.5 15,10 14.2,12.5 13.5,14.5 15.5,16.9 15.2,21"],
    "Niger": ["3.3,19 6,19.5 12,23.5 14,22.6 15,23 15.2,21 15.5,16.9 13.5,14.5 13.6,13.7 10,13.2 6.8,13.2 3.7,11.8 2.4,12.2 1,13 1,14.9 3.5,15.4 4.2,16.9"],
    "Mali": ["-11.4,15 -9.3,15.5 -5.5,15.5 -6.5,25 -4.8,25 1.2,20.7 3.3,19 4.2,16.9 3.5,15.4 1,14.9 -3.5,13.3 -5.4,10.4 -8,10.3 -8.3,11.9 -11.4,12.4"],
    "Burkina Faso": ["-5.4,10.4 -3.5,13.3 1,14.9 1,13 2.4,12.2 0.9,11 0,11 -2.9,11"],
    "Senegal": ["-17.5,14.7 -16.5,16.2 -14,16.5 -12.2,15 -11.4,15 -11.4,12.4 -13.7,12.7 -16.7,12.4"],
    "Gambia": ["-16.8,13.5 -14,13.6 -14,13.2 -16.7,13.1"],
    "Guinea-Bissau": ["-16.7,12.4 -13.7,12.7 -13.7,11.7 -15,11"],
    "Guinea": ["-15,11 -13.7,11.7 -13.7,12.7 -11.4,12.4 -8.3,11.9 -8,10.3 -7.9,8.5 -9.4,7.5 -10.3,8.5 -10.6,9.3 -12.5,9.9 -13.3,9"],
    "Sierra Leone": ["-13.3,9 -12.5,9.9 -10.6,9.3 -10.3,8.5 -11.4,6.9 -13,7.5"],
    "Liberia": ["-11.4,6.9 -10.3,8.5 -9.4,7.5 -8.5,7.5 -7.5,4.4 -9.2,5"],
    "Ivory Coast": ["-8,10.3 -5.4,10.4 -2.9,11 -2.7,9.5 -3.1,5.1 -7.5,4.4 -8.5,7.5 -9.4,7.5 -7.9,8.5"],
    "Ghana": ["-2.9,11 0,11 0.5,8 1.1,6 -2,4.8 -3.1,5.1 -2.7,9.5"],
    "Togo": ["0,11 0.9,11 1.6,9 1.7,6.2 1.1,6 0.5,8"],
    "Benin": ["0.9,11 2.4,12.2 3.7,11.8 2.7,8.5 2.7,6.3 1.7,6.2 1.6,9"],
    "Nigeria": ["2.7,6.3 2.7,8.5 3.7,11.8 6.8,13.2 10,13.2 13.6,13.7 14.2,12.5 13,9.5 11,6.6 8.8,4.5 6,4.3 4.5,6.3"],
    "Cameroon": ["8.8,4.5 11,6.6 13,9.5 14.2,12.5 15,10 15.5,7.5 14.5,4.5 16,2 13.3,2.2 9.8,2.3 9.7,3.9"],
    "Central African Republic": ["15.5,7.5 18.8,9 22.9,11 23.5,10 24,8.7 25,5 27.8,5 22.5,4.2 19,3.5 18.5,3.5 16.5,3.5 16,2 14.5,4.5"],
    "Equatorial Guinea": ["9.8,2.3 11.3,2.2 11.3,1 9.5,1"],
    "Gabon": ["9.5,1 11.3,1 11.3,2.2 13.3,2.2 14.5,1.4 13,-2.3 11.5,-2.3 11,-3.8 8.8,-1"],
    "Congo": ["11,-3.8 11.5,-2.3 13,-2.3 14.5,1.4 13.3,2.2 16,2 16.5,3.5 18.5,3.5 17.7,-0.7 16.2,-2.5 15.2,-4.3 13,-4.7 12.2,-5"],
    "DR Congo": ["12.2,-6 12.2,-5 13,-4.7 15.2,-4.3 16.2,-2.5 17.7,-0.7 18.5,3.5 19,3.5 22.5,4.2 27.8,5 31,3.7 31.3,2.2 30.2,0.8 29.6,-1.4 29,-2.5 29.2,-4.5 29.5,-6.5 30.7,-8.2 28.7,-8.5 28.5,-12 29.8,-13.4 27.2,-11.6 24,-11 22,-10.9 21.8,-7.3 19.4,-7.2 17.5,-5.9 16.5,-5.9 13,-5.9"],
    "Rwanda": ["29,-2.5 29.6,-1.4 30.5,-1 30.8,-2.4"],
    "Burundi": ["29,-2.5 30.8,-2.4 30.6,-3.4 29.2,-4.5"],
    "Tanzania": ["30.5,-1 34,-1 37.7,-3.7 39.2,-4.7 38.9,-6.5 39.5,-8.5 40.4,-10.4 38,-11.3 34.9,-11.6 34.6,-9.6 33,-9.4 30.7,-8.2 29.5,-6.5 29.2,-4.5 30.6,-3.4 30.8,-2.4"],
    "Zambia": ["30.7,-8.2 33,-9.4 33.7,-11.5 33,-13.5 30.2,-14.9 30.4,-15.6 28.9,-16 26.8,-18 25.3,-17.8 23.4,-17.6 22,-16.2 22,-13 24,-13 24,-11 27.2,-11.6 29.8,-13.4 28.5,-12 28.7,-8.5"],
    "Malawi": ["33,-9.4 34.6,-9.6 34.9,-11.6 35.2,-14 35.9,-15 35.2,-17 34.4,-16.2 34.2,-14.5 33,-13.5 33.7,-11.5"],
    "Mozambique": ["34.9,-11.6 38,-11.3 40.4,-10.4 40.8,-14.8 37,-17.8 34.8,-20 35.5,-24 32.8,-25.9 32.8,-26.8 32,-26 32,-24.4 31.4,-22.4 32.5,-21 33,-18 32.8,-16.7 30.4,-15.6 30.2,-14.9 33,-13.5 34.2,-14.5 34.4,-16.2 35.2,-17 35.9,-15 35.2,-14"],
    "Zimbabwe": ["25.3,-17.8 26.8,-18 28.9,-16 30.4,-15.6 32.8,-16.7 33,-18 32.5,-21 31.4,-22.4 29.4,-22.2 27.7,-20.5 26,-18"],
    "Botswana": ["21,-18.3 25.3,-17.8 26,-18 27.7,-20.5 29.4,-22.2 27,-23.7 25.5,-25.7 23,-25.3 21.7,-26.9 20,-24.9 20,-22 21,-22"],
    "Namibia": ["11.8,-17.3 13.9,-17.4 18.5,-17.4 23.4,-17.6 25.3,-17.8 21,-18.3 21,-22 20,-22 20,-24.9 20,-28.4 17,-28.7 15,-26.5 14.4,-22.5 12,-18"],
    "Angola": ["12.2,-6 13,-5.9 16.5,-5.9 17.5,-5.9 19.4,-7.2 21.8,-7.3 22,-10.9 24,-11 24,-13 22,-13 22,-16.2 23.4,-17.6 18.5,-17.4 13.9,-17.4 11.8,-17.3 13.6,-12.3 13.8,-10.6 13,-8.5"],
    "South Africa": ["17,-28.7 20,-28.4 20,-24.9 21.7,-26.9 23,-25.3 25.5,-25.7 27,-23.7 29.4,-22.2 31.4,-22.4 32,-24.4 32,-26 32.8,-26.8 32.4,-28.6 30.8,-30.5 27.5,-33.2 25.7,-34 22.5,-34.2 20,-34.8 18.4,-34.2 18.2,-32 17,-29"],
    "Eswatini": ["31,-25.8 32,-26 32,-27 31,-27.3 30.8,-26.5"],
    "Lesotho": ["27,-29.6 28.5,-28.6 29.4,-29.6 28.3,-30.6 27.2,-30.3"],
    "Madagascar": ["49.3,-12 50.4,-15.5 49.5,-17 47.2,-24.8 45.2,-25.5 43.7,-23.5 44.5,-20 44,-17 47,-15.3"],
    "Mauritius": ["57.3,-20 57.8,-20 57.6,-20.5"],
    "Australia": ["114.2,-22 113.5,-26 115.8,-32 115,-34.3 118,-35 123.5,-33.9 126,-32.3 131.2,-31.5 134.2,-33 135.7,-34.9 137.7,-32.6 137.5,-35.2 139.5,-35.8 140.6,-38 143.5,-38.8 146.4,-39 150,-37.3 151.3,-33.5 153.2,-30 153.5,-27.5 150.8,-23 149,-20.5 146.3,-19 145.3,-15 143.5,-14 142.5,-10.8 141.6,-14 140.9,-17.5 139,-17 135.5,-15 136,-12.2 132.5,-11.2 130.5,-12.5 129,-15 127,-14 124.5,-16.3 122.3,-18 119,-20",
                  "144.7,-40.7 148.3,-40.9 148,-43 146.5,-43.6 145.3,-42.5"],
    "New Zealand": ["172.7,-34.4 174.5,-36 176,-37.6 178.5,-37.7 177,-39.5 175.3,-41.6 175,-40 173.8,-39.3 174.7,-37.8",
                    "172.7,-40.5 174.3,-41.7 172.8,-43.7 171,-45.9 169,-46.6 166.5,-46 170.5,-43"],
}

W, H = 1742, 1086


def ring_coords(text):
    pts = [[float(v) for v in p.split(",")] for p in text.split()]
    # d3-geo wants clockwise rings, otherwise it fills the rest of the globe
    area = sum(a[0] * b[1] - b[0] * a[1] for a, b in zip(pts, pts[1:] + pts[:1]))
    if area > 0:
        pts = pts[::-1]
    return pts + [pts[0]]


def color_of(name):
    if name in no_data:
        return no_data_color
    if name in weeks_0:
        return category_colors[0]
    if name in weeks_up_to_4:
        return category_colors[1]
    if name in weeks_4_12:
        return category_colors[2]
    if name in weeks_24_plus:
        return category_colors[4]
    return category_colors[3]


fig = go.Figure()
for name, rings in outlines.items():
    lons, lats = [], []
    for r in rings:
        pts = ring_coords(r)
        lons += [p[0] for p in pts] + [None]
        lats += [p[1] for p in pts] + [None]
    fig.add_trace(go.Scattergeo(lon=lons[:-1], lat=lats[:-1], mode="lines", fill="toself", name=name,
                                fillcolor=color_of(name), line=dict(color="white", width=0.7),
                                hoverinfo="name", showlegend=False))


def px_x(x):
    return x / W


def px_y(y):
    return 1 - y / H


# natural earth fits the reference: world spans 16.6..1717.4 across, equator near y=645
fig.update_geos(projection_type="natural earth", visible=False, bgcolor="rgba(0,0,0,0)",
                domain=dict(x=[px_x(16.6), px_x(1717.4)], y=[0, px_y(202.7)]))


def add_text(x, y, text, size, color, family, bold=False):
    if bold:
        text = "<b>" + text + "</b>"
    fig.add_annotation(x=px_x(x), y=px_y(y), xref="paper", yref="paper", text=text, showarrow=False,
                       xanchor="left", yanchor="middle", align="left", font=dict(size=size, color=color, family=family))


add_text(27, 51, title, 36.6, "#121212", "Liberation Serif", bold=True)
add_text(27, 103, subtitle[0], 28.25, "#666666", "Liberation Serif")
add_text(27, 137, subtitle[1], 28.25, "#666666", "Liberation Serif")

swatch_x = [29, 151, 331, 510, 702]
label_x = [54, 177, 356, 536, 727]
for sx, lx, cat, col in zip(swatch_x, label_x, categories, category_colors):
    fig.add_shape(type="rect", xref="paper", yref="paper", x0=px_x(sx), x1=px_x(sx + 22), y0=px_y(202), y1=px_y(179),
                  fillcolor=col, line_width=0)
    add_text(lx, 191, cat, 21.7, "#333333", "Liberation Sans")

add_text(27, 990, note[0], 21.65, "#222222", "Liberation Sans")
add_text(27, 1015, note[1], 21.65, "#222222", "Liberation Sans")
add_text(27, 1046, source, 24.25, "#888888", "Liberation Serif")

fig.update_layout(width=W, height=H, margin=dict(l=0, r=0, t=0, b=0), paper_bgcolor="white")
# the page's default body margin would push the figure 8px off
fig.write_html("out.html", post_script="document.body.style.margin='0';", config={"displayModeBar": False})
